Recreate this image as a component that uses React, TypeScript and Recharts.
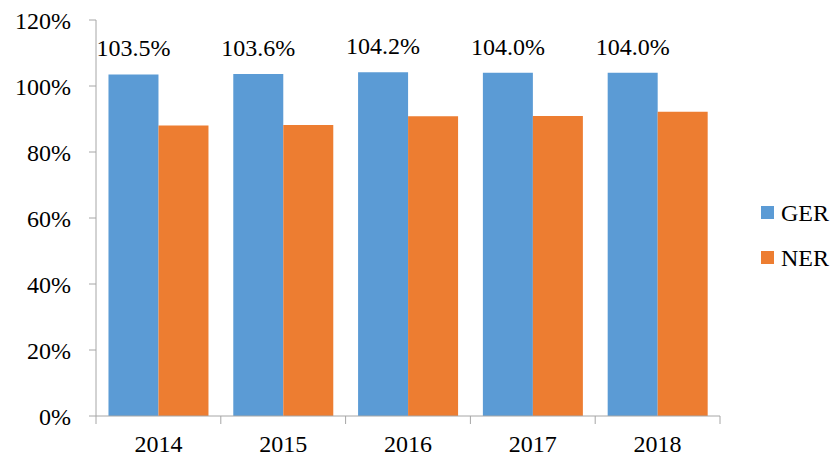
import { Bar, BarChart, LabelList, Legend, XAxis, YAxis } from "recharts";

const years = ["2014", "2015", "2016", "2017", "2018"];
const gerValues = [103.5, 103.6, 104.2, 104.0, 104.0];
const nerValues = [88.0, 88.2, 90.8, 90.9, 92.2];
const yTicks = [0, 20, 40, 60, 80, 100, 120];

const FONT = "Liberation Serif, Times New Roman, DejaVu Serif, serif";
const AXIS = "#A6A6A6";
const GER_COLOR = "#5B9BD5";
const NER_COLOR = "#ED7D31";

const data = years.map((year, i) => ({
  year,
  GER: gerValues[i],
  NER: nerValues[i],
}));

// year label at the band centre, tick marks at the band edges
function YearTick(props: any) {
  const { x, y, payload, index } = props;
  const half = payload.offset ?? 0;
  const last = index === years.length - 1;
  return (
    <g>
      <line x1={x - half} x2={x - half} y1={y} y2={y + 8} stroke={AXIS} />
      {last && <line x1={x + half} x2={x + half} y1={y} y2={y + 8} stroke={AXIS} />}
      <text
        x={x}
        y={y + 36}
        textAnchor="middle"
        fontFamily={FONT}
        fontSize={24}
        fill="#000"
      >
        {payload.value}
      </text>
    </g>
  );
}

function LegendBox() {
  const items = [
    { name: "GER", color: GER_COLOR },
    { name: "NER", color: NER_COLOR },
  ];
  return (
    <div style={{ fontFamily: FONT, fontSize: 24, color: "#000" }}>
      {items.map((it) => (
        <div
          key={it.name}
          style={{ display: "flex", alignItems: "center", height: 45, lineHeight: "24px" }}
        >
          <span
            style={{
              display: "inline-block",
              width: 13,
              height: 13,
              background: it.color,
              marginRight: 7,
            }}
          />
          {it.name}
        </div>
      ))}
    </div>
  );
}

export default function App() {
  return (
    <div style={{ position: "absolute", left: 0, top: 0, background: "#fff", fontFamily: FONT }}>
      <BarChart
        width={837}
        height={464}
        data={data}
        margin={{ top: 20, right: 117, left: 0, bottom: 0 }}
        barCategoryGap="10%"
        barGap={0}
      >
        <XAxis
          dataKey="year"
          height={48}
          interval={0}
          tickLine={false}
          tickSize={0}
          tickMargin={0}
          axisLine={{ stroke: AXIS }}
          tick={<YearTick />}
        />
        <YAxis
          width={96}
          domain={[0, 120]}
          ticks={yTicks}
          interval={0}
          tickFormatter={(v: number) => `${v}%`}
          tick={{ fontFamily: FONT, fontSize: 24, fill: "#000" }}
          tickSize={7}
          tickMargin={18}
          tickLine={{ stroke: AXIS }}
          axisLine={{ stroke: AXIS }}
        />
        <Legend
          layout="vertical"
          align="center"
          verticalAlign="middle"
          content={<LegendBox />}
          wrapperStyle={{ position: "absolute", left: 761, top: 190, width: 76 }}
        />
        <Bar dataKey="GER" fill={GER_COLOR} isAnimationActive={false}>
          <LabelList
            dataKey="GER"
            position="top"
            offset={18}
            formatter={(v: any) => `${Number(v).toFixed(1)}%`}
            fontFamily={FONT}
            fontSize={24}
            fill="#000"
          />
        </Bar>
        <Bar dataKey="NER" fill={NER_COLOR} isAnimationActive={false} />
      </BarChart>
    </div>
  );
}
